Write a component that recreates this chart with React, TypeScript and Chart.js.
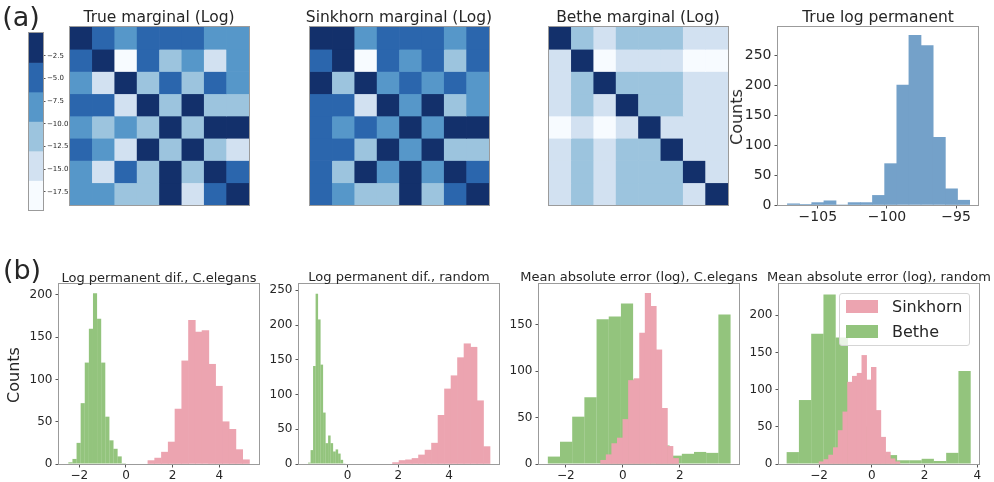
import React, { useEffect, useRef } from "react";
import { Chart, registerables } from "chart.js";

Chart.register(...registerables);

const FONT = "'DejaVu Sans', 'Liberation Sans', sans-serif";
const TEXT = "#262626";
const SPINE = "#9b9b9b";
const TICK = "#555555";

// ---------- colour bar (log marginal bands) ----------
const cbBounds = [0, -3.25, -6.5, -9.75, -13, -16.25, -19.5];
const cbTicks = [-2.5, -5, -7.5, -10, -12.5, -15, -17.5];
const cbColors = ["#13306b", "#2b66ad", "#5697c9", "#9cc4de", "#d2e1f1", "#f7fbff"];

// ---------- heatmaps: log marginals, 8x8 ----------
const heatCols = ["1", "2", "3", "4", "5", "6", "7", "8"];
const trueMarginal = [
  [-1.2, -4.9, -8.1, -4.9, -4.9, -4.9, -8.1, -8.1],
  [-4.9, -1.2, -18.3, -4.9, -11.4, -8.1, -14.7, -8.1],
  [-8.1, -14.7, -1.2, -11.4, -4.9, -11.4, -4.9, -8.1],
  [-4.9, -4.9, -14.7, -1.2, -11.4, -1.2, -11.4, -11.4],
  [-8.1, -11.4, -8.1, -11.4, -1.2, -11.4, -1.2, -1.2],
  [-4.9, -8.1, -14.7, -1.2, -11.4, -1.2, -11.4, -14.7],
  [-8.1, -14.7, -4.9, -11.4, -1.2, -11.4, -1.2, -4.9],
  [-8.1, -8.1, -11.4, -11.4, -1.2, -14.7, -4.9, -1.2],
];
const sinkhornMarginal = [
  [-1.2, -1.2, -8.1, -4.9, -4.9, -4.9, -8.1, -4.9],
  [-4.9, -1.2, -18.3, -4.9, -8.1, -4.9, -11.4, -4.9],
  [-1.2, -11.4, -1.2, -8.1, -4.9, -8.1, -4.9, -8.1],
  [-4.9, -4.9, -14.7, -1.2, -8.1, -1.2, -11.4, -8.1],
  [-4.9, -8.1, -4.9, -8.1, -1.2, -8.1, -1.2, -1.2],
  [-4.9, -4.9, -11.4, -1.2, -8.1, -1.2, -11.4, -11.4],
  [-4.9, -11.4, -1.2, -8.1, -1.2, -8.1, -1.2, -4.9],
  [-4.9, -8.1, -11.4, -11.4, -1.2, -11.4, -4.9, -1.2],
];
const betheMarginal = [
  [-1.2, -11.4, -14.7, -11.4, -11.4, -11.4, -14.7, -14.7],
  [-14.7, -1.2, -18.3, -14.7, -14.7, -14.7, -18.3, -18.3],
  [-14.7, -11.4, -1.2, -11.4, -11.4, -11.4, -14.7, -14.7],
  [-14.7, -11.4, -14.7, -1.2, -11.4, -11.4, -14.7, -14.7],
  [-18.3, -14.7, -18.3, -14.7, -1.2, -14.7, -14.7, -14.7],
  [-14.7, -11.4, -14.7, -11.4, -11.4, -1.2, -14.7, -14.7],
  [-14.7, -11.4, -14.7, -11.4, -11.4, -11.4, -1.2, -14.7],
  [-14.7, -11.4, -14.7, -11.4, -11.4, -11.4, -14.7, -1.2],
];

// ---------- true log permanent histogram ----------
const permCenters = [-106.76, -105.88, -105.0, -104.12, -103.25, -102.37, -101.49, -100.61, -99.73, -98.85, -97.98, -97.1, -96.22, -95.34, -94.46];
const permCounts = [2, 1, 4, 7, 0, 4, 4, 16, 69, 200, 283, 266, 113, 27, 8];
const permXTicks = [-105, -100, -95];
const permYTicks = [0, 50, 100, 150, 200, 250];

// ---------- (b1) log permanent dif., C.elegans ----------
const b1BetheCenters = [-2.382, -2.206, -2.03, -1.854, -1.678, -1.502, -1.326, -1.15, -0.974, -0.798, -0.622, -0.446, -0.27, -0.094];
const b1BetheCounts = [2, 6, 25, 72, 120, 160, 202, 172, 120, 56, 28, 18, 9, 1];
const b1SinkCenters = [1.085, 1.375, 1.665, 1.955, 2.245, 2.535, 2.825, 3.115, 3.405, 3.695, 3.985, 4.275, 4.565, 4.855, 5.145];
const b1SinkCounts = [4, 7, 14, 26, 65, 122, 170, 156, 158, 118, 92, 50, 41, 17, 5];
const b1XTicks = [-2, 0, 2, 4];
const b1YTicks = [0, 50, 100, 150, 200];

// ---------- (b2) log permanent dif., random ----------
const b2BetheCenters = [-1.504, -1.405, -1.306, -1.207, -1.109, -1.01, -0.911, -0.812, -0.714, -0.615, -0.516, -0.417, -0.319, -0.22, -0.121];
const b2BetheCounts = [2, 20, 141, 245, 208, 143, 74, 30, 41, 30, 18, 21, 15, 6, 1];
const b2SinkCenters = [1.904, 2.16, 2.416, 2.672, 2.928, 3.184, 3.44, 3.696, 3.952, 4.208, 4.464, 4.72, 4.976, 5.232, 5.488];
const b2SinkCounts = [2, 5, 6, 8, 13, 20, 30, 70, 108, 127, 153, 173, 168, 91, 25];
const b2XTicks = [0, 2, 4];
const b2YTicks = [0, 50, 100, 150, 200, 250];

// ---------- (b3) mean absolute error (log), C.elegans ----------
const b3BetheCenters = [-2.417, -1.99, -1.563, -1.136, -0.709, -0.282, 0.145, 0.572, 0.999, 1.426, 1.853, 2.28, 2.707, 3.134, 3.561];
const b3BetheCounts = [8, 24, 51, 72, 156, 159, 173, 91, 38, 20, 9, 11, 13, 12, 161];
const b3SinkCenters = [-0.683, -0.488, -0.293, -0.098, 0.098, 0.293, 0.488, 0.683, 0.878, 1.073, 1.268, 1.463, 1.658, 1.853];
const b3SinkCounts = [4, 10, 22, 28, 48, 90, 92, 141, 184, 170, 123, 60, 19, 6];
const b3XTicks = [-2, 0, 2];
const b3YTicks = [0, 50, 100, 150];

// ---------- (b4) mean absolute error (log), random ----------
const b4BetheCenters = [-2.998, -2.533, -2.068, -1.603, -1.138, -0.673, -0.208, 0.258, 0.723, 1.188, 1.653, 2.118, 2.583, 3.048, 3.513];
const b4BetheCounts = [16, 86, 175, 228, 170, 89, 50, 27, 12, 5, 5, 7, 4, 15, 125];
const b4SinkCenters = [-1.91, -1.73, -1.55, -1.37, -1.19, -1.01, -0.83, -0.65, -0.47, -0.29, -0.11, 0.07, 0.25, 0.43, 0.61, 0.79, 0.97];
const b4SinkCounts = [3, 6, 12, 22, 45, 70, 110, 118, 122, 146, 113, 130, 72, 36, 16, 7, 3];
const b4XTicks = [-2, 0, 2, 4];
const b4YTicks = [0, 50, 100, 150, 200];

const seriesNames = ["Sinkhorn", "Bethe"];
const PERM_COLOR = "rgb(116,161,201)";
const SINK_COLOR = "rgb(236,164,176)";
const BETHE_COLOR = "rgba(89,164,55,0.65)";

// ---------- helpers ----------
const fmtInt = (v: number) => (v < 0 ? "\u2212" + Math.abs(v) : String(v));
const fmtDec = (v: number) => (v < 0 ? "\u2212" : "") + Math.abs(v).toFixed(1);

function colorFor(v: number) {
  for (let i = 0; i < cbColors.length; i++) {
    if (v <= cbBounds[i] && v > cbBounds[i + 1]) return cbColors[i];
  }
  return cbColors[cbColors.length - 1];
}

const framePlugin = {
  id: "frame",
  afterDraw(chart: any) {
    const { ctx, chartArea: a } = chart;
    ctx.save();
    ctx.strokeStyle = SPINE;
    ctx.lineWidth = 1;
    ctx.strokeRect(a.left - 0.5, a.top - 0.5, a.right - a.left + 1, a.bottom - a.top + 1);
    ctx.restore();
  },
};

const baseOptions = {
  animation: false,
  responsive: false,
  devicePixelRatio: 1,
  events: [] as string[],
};

const AX_W = 52;
const AX_H = 22;
const PAD_T = 10;
const PAD_R = 12;

type Box = { l: number; t: number; w: number; h: number };

function histBox(area: Box): Box {
  return { l: area.l - AX_W, t: area.t - PAD_T, w: area.w + AX_W + PAD_R, h: area.h + PAD_T + AX_H };
}

function histConfig(o: {
  series: { centers: number[]; counts: number[]; color: string; translucent?: boolean }[];
  xMin: number;
  xMax: number;
  yMax: number;
  xTicks: number[];
  yTicks: number[];
  fontSize: number;
}) {
  const tickFont = { family: FONT, size: o.fontSize, lineHeight: 1 };
  const grid = { display: true, drawOnChartArea: false, drawTicks: true, tickLength: 3.5, tickColor: TICK, lineWidth: 1, offset: false };
  return {
    type: "bar",
    data: {
      datasets: o.series.map((s) => ({
        data: s.centers.map((c, k) => ({ x: c, y: s.counts[k] })),
        stack: "hist",
        backgroundColor: s.color,
        borderWidth: 0,
        inflateAmount: s.translucent ? 0 : "auto",
        barThickness: "flex",
        categoryPercentage: 1,
        barPercentage: 1,
      })),
    },
    options: {
      ...baseOptions,
      layout: { padding: { left: 0, top: PAD_T, right: PAD_R, bottom: 0 } },
      plugins: { legend: { display: false }, tooltip: { enabled: false } },
      scales: {
        x: {
          type: "linear",
          min: o.xMin,
          max: o.xMax,
          offset: false,
          grid,
          border: { display: false },
          ticks: { font: tickFont, color: TEXT, padding: 2, maxRotation: 0, autoSkip: false, callback: (v: any) => fmtInt(Number(v)) },
          afterBuildTicks: (s: any) => {
            s.ticks = o.xTicks.map((v) => ({ value: v }));
          },
          afterFit: (s: any) => {
            s.height = AX_H;
          },
        },
        y: {
          type: "linear",
          min: 0,
          max: o.yMax,
          stacked: false,
          grid,
          border: { display: false },
          ticks: { font: tickFont, color: TEXT, padding: 3, autoSkip: false, callback: (v: any) => fmtInt(Number(v)) },
          afterBuildTicks: (s: any) => {
            s.ticks = o.yTicks.map((v) => ({ value: v }));
          },
          afterFit: (s: any) => {
            s.width = AX_W;
          },
        },
      },
    },
    plugins: [framePlugin],
  };
}

function heatConfig(matrix: number[][]) {
  return {
    type: "bar",
    data: {
      labels: heatCols,
      datasets: matrix.map((row, r) => ({
        data: row.map(() => [r, r + 1]),
        backgroundColor: row.map(colorFor),
        borderWidth: 0,
        grouped: false,
        categoryPercentage: 1,
        barPercentage: 1,
      })),
    },
    options: {
      ...baseOptions,
      layout: { padding: 2 },
      plugins: { legend: { display: false }, tooltip: { enabled: false } },
      scales: {
        x: { display: false },
        y: { display: false, min: 0, max: heatCols.length, reverse: true },
      },
    },
    plugins: [framePlugin],
  };
}

function colorbarConfig() {
  return {
    type: "bar",
    data: {
      labels: ["cb"],
      datasets: cbColors.map((c, i) => ({
        data: [[cbBounds[i + 1], cbBounds[i]]],
        backgroundColor: c,
        borderWidth: 0,
        grouped: false,
        categoryPercentage: 1,
        barPercentage: 1,
      })),
    },
    options: {
      ...baseOptions,
      layout: { padding: { left: 2, top: 8, right: 0, bottom: 8 } },
      plugins: { legend: { display: false }, tooltip: { enabled: false } },
      scales: {
        x: { display: false },
        y: {
          position: "right",
          min: cbBounds[cbBounds.length - 1],
          max: cbBounds[0],
          grid: { display: true, drawOnChartArea: false, drawTicks: true, tickLength: 2.5, tickColor: TICK },
          border: { display: false },
          ticks: { font: { family: FONT, size: 7, lineHeight: 1 }, color: TEXT, padding: 1.5, autoSkip: false, callback: (v: any) => fmtDec(Number(v)) },
          afterBuildTicks: (s: any) => {
            s.ticks = cbTicks.map((v) => ({ value: v }));
          },
          afterFit: (s: any) => {
            s.width = 30;
          },
        },
      },
    },
    plugins: [framePlugin],
  };
}

function ChartCanvas({ box, make }: { box: Box; make: () => any }) {
  const ref = useRef<HTMLCanvasElement | null>(null);
  useEffect(() => {
    if (!ref.current) return;
    const chart = new Chart(ref.current, make());
    return () => chart.destroy();
  }, []);
  return (
    <canvas
      ref={ref}
      width={box.w}
      height={box.h}
      style={{ position: "absolute", left: box.l, top: box.t, width: box.w, height: box.h }}
    />
  );
}

function Label({ x, y, size, text, rotate }: { x: number; y: number; size: number; text: string; rotate?: boolean }) {
  return (
    <div
      style={{
        position: "absolute",
        left: x,
        top: y,
        transform: `translate(-50%, -50%)${rotate ? " rotate(-90deg)" : ""}`,
        fontFamily: FONT,
        fontSize: size,
        lineHeight: 1,
        whiteSpace: "nowrap",
        color: TEXT,
      }}
    >
      {text}
    </div>
  );
}

const heatAreas: Box[] = [
  { l: 70, t: 27, w: 179, h: 178 },
  { l: 310, t: 27, w: 179, h: 178 },
  { l: 549, t: 27, w: 179, h: 178 },
];
const heatBox = (a: Box): Box => ({ l: a.l - 2, t: a.t - 2, w: a.w + 4, h: a.h + 4 });

export default function App() {
  return (
    <div
      style={{
        position: "absolute",
        left: 0,
        top: 0,
        width: 994,
        height: 482,
        overflow: "hidden",
        background: "#ffffff",
      }}
    >
      <ChartCanvas box={{ l: 27, t: 25, w: 46, h: 193 }} make={colorbarConfig} />
      <ChartCanvas box={heatBox(heatAreas[0])} make={() => heatConfig(trueMarginal)} />
      <ChartCanvas box={heatBox(heatAreas[1])} make={() => heatConfig(sinkhornMarginal)} />
      <ChartCanvas box={heatBox(heatAreas[2])} make={() => heatConfig(betheMarginal)} />
      <ChartCanvas
        box={histBox({ l: 778, t: 27, w: 200, h: 178 })}
        make={() =>
          histConfig({
            series: [{ centers: permCenters, counts: permCounts, color: PERM_COLOR }],
            xMin: -107.88,
            xMax: -93.42,
            yMax: 297,
            xTicks: permXTicks,
            yTicks: permYTicks,
            fontSize: 14,
          })
        }
      />
      <ChartCanvas
        box={histBox({ l: 59, t: 284, w: 200, h: 180 })}
        make={() =>
          histConfig({
            series: [
              { centers: b1SinkCenters, counts: b1SinkCounts, color: SINK_COLOR },
              { centers: b1BetheCenters, counts: b1BetheCounts, color: BETHE_COLOR, translucent: true },
            ],
            xMin: -2.87,
            xMax: 5.7,
            yMax: 213,
            xTicks: b1XTicks,
            yTicks: b1YTicks,
            fontSize: 12,
          })
        }
      />
      <ChartCanvas
        box={histBox({ l: 299, t: 284, w: 200, h: 180 })}
        make={() =>
          histConfig({
            series: [
              { centers: b2SinkCenters, counts: b2SinkCounts, color: SINK_COLOR },
              { centers: b2BetheCenters, counts: b2BetheCounts, color: BETHE_COLOR, translucent: true },
            ],
            xMin: -1.91,
            xMax: 5.97,
            yMax: 259,
            xTicks: b2XTicks,
            yTicks: b2YTicks,
            fontSize: 12,
          })
        }
      />
      <ChartCanvas
        box={histBox({ l: 539, t: 284, w: 200, h: 180 })}
        make={() =>
          histConfig({
            series: [
              { centers: b3SinkCenters, counts: b3SinkCounts, color: SINK_COLOR },
              { centers: b3BetheCenters, counts: b3BetheCounts, color: BETHE_COLOR, translucent: true },
            ],
            xMin: -2.94,
            xMax: 4.07,
            yMax: 194,
            xTicks: b3XTicks,
            yTicks: b3YTicks,
            fontSize: 12,
          })
        }
      />
      <ChartCanvas
        box={histBox({ l: 779, t: 284, w: 200, h: 180 })}
        make={() =>
          histConfig({
            series: [
              { centers: b4SinkCenters, counts: b4SinkCounts, color: SINK_COLOR },
              { centers: b4BetheCenters, counts: b4BetheCounts, color: BETHE_COLOR, translucent: true },
            ],
            xMin: -3.52,
            xMax: 4.06,
            yMax: 242,
            xTicks: b4XTicks,
            yTicks: b4YTicks,
            fontSize: 12,
          })
        }
      />

      <Label x={21} y={16} size={27} text="(a)" />
      <Label x={22} y={269} size={27} text="(b)" />
      <Label x={159} y={18} size={15.5} text="True marginal (Log)" />
      <Label x={399} y={18} size={15.5} text="Sinkhorn marginal (Log)" />
      <Label x={638} y={18} size={15.5} text="Bethe marginal (Log)" />
      <Label x={878} y={18} size={15.5} text="True log permanent" />
      <Label x={737} y={117} size={16} text="Counts" rotate />
      <Label x={14} y={375} size={16} text="Counts" rotate />
      <Label x={159} y={277} size={13} text="Log permanent dif., C.elegans" />
      <Label x={399} y={276} size={13} text="Log permanent dif., random" />
      <Label x={639} y={276} size={13} text="Mean absolute error (log), C.elegans" />
      <Label x={879} y={276} size={13} text="Mean absolute error (log), random" />

      <div
        style={{
          position: "absolute",
          left: 839,
          top: 293,
          width: 131,
          height: 53,
          boxSizing: "border-box",
          border: "1px solid #d5d5d5",
          borderRadius: 3,
          background: "rgba(255,255,255,0.8)",
        }}
      >
        {[SINK_COLOR, BETHE_COLOR].map((c, i) => (
          <React.Fragment key={i}>
            <div style={{ position: "absolute", left: 6, top: 6 + i * 25, width: 32, height: 13, background: c }} />
            <div
              style={{
                position: "absolute",
                left: 52,
                top: 13 + i * 25,
                transform: "translateY(-50%)",
                fontFamily: FONT,
                fontSize: 16,
                lineHeight: 1,
                color: TEXT,
                whiteSpace: "nowrap",
              }}
            >
              {seriesNames[i]}
            </div>
          </React.Fragment>
        ))}
      </div>
    </div>
  );
}
